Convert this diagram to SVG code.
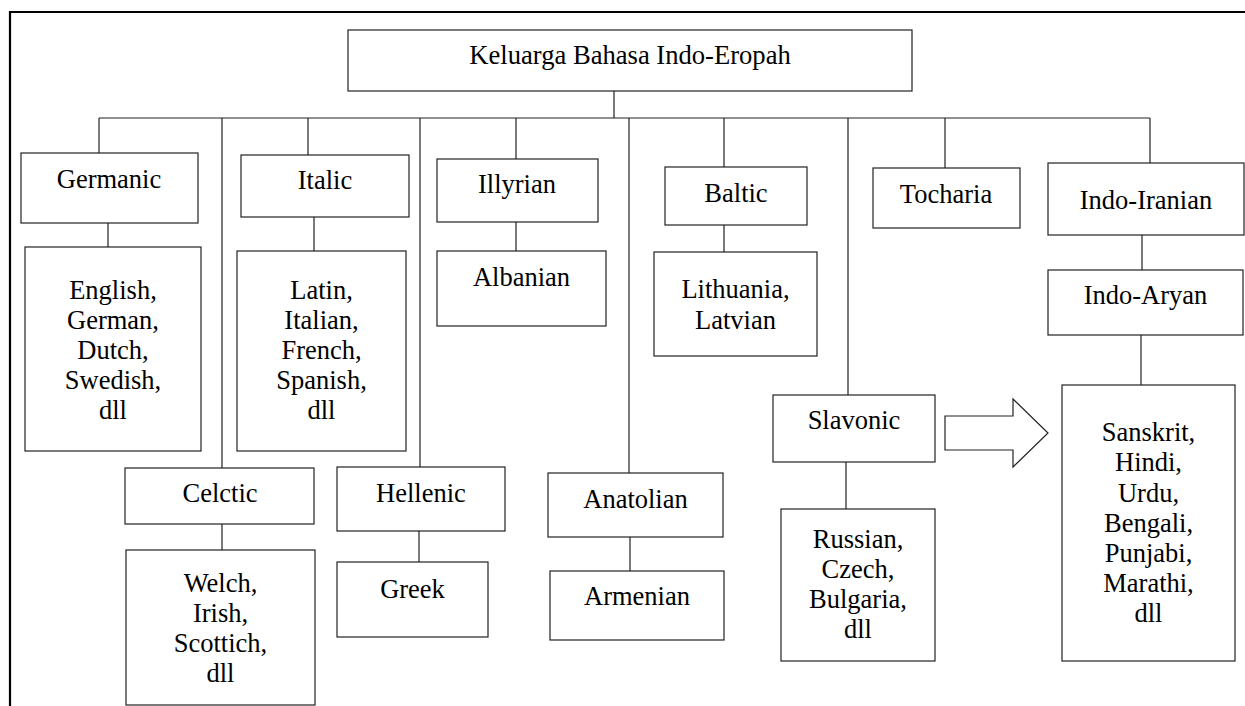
<svg xmlns="http://www.w3.org/2000/svg" width="1245" height="706" viewBox="0 0 1245 706">
<style>
.box{fill:#fff;stroke:#222;stroke-width:1.2}
.ln{stroke:#222;stroke-width:1.2;fill:none}
.frame{stroke:#000;stroke-width:2.2;fill:none}
text{font-family:'Liberation Serif','Times New Roman','DejaVu Serif',serif;font-size:26.5px;fill:#000;text-anchor:middle}
.title{font-size:26.6px}
</style>
<rect width="1245" height="706" fill="#fff"/>
<g id="frame">
<path class="frame" d="M10,706 V12 H1245"/>
</g>
<g id="connectors">
<path class="ln" d="M614,91 V118 M99,118 H1150"/>
<path class="ln" d="M99,118 V153 M222,118 V468 M308,118 V155 M420,118 V467 M516,118 V159 M629,118 V473 M724,118 V167 M848,118 V395 M945,118 V168 M1150,118 V163"/>
<path class="ln" d="M108,223 V247 M314,217 V251 M516,222 V251 M724,225 V252 M222,524 V550 M419,531 V562 M630,537 V571 M846,462 V509 M1142,235 V270 M1141,335 V385"/>
<path class="ln" d="M945,416 H1013 V399 L1048,433 L1013,467 V450 H945 Z"/>
</g>
<g font-family="Liberation Serif, serif">
<g id="root"><rect class="box" x="348" y="30" width="564" height="61"/><text class="title" x="630" y="64">Keluarga Bahasa Indo-Eropah</text></g>
<g id="germanic"><rect class="box" x="21" y="153" width="177" height="70"/><text x="109" y="188">Germanic</text></g>
<g id="germanic-langs"><rect class="box" x="25" y="247" width="176" height="204"/><text x="113" y="299">English,</text><text x="113" y="329">German,</text><text x="113" y="359">Dutch,</text><text x="113" y="389">Swedish,</text><text x="113" y="419">dll</text></g>
<g id="italic"><rect class="box" x="241" y="155" width="168" height="62"/><text x="325" y="189">Italic</text></g>
<g id="italic-langs"><rect class="box" x="237" y="251" width="169" height="200"/><text x="321.5" y="299">Latin,</text><text x="321.5" y="329">Italian,</text><text x="321.5" y="359">French,</text><text x="321.5" y="389">Spanish,</text><text x="321.5" y="419">dll</text></g>
<g id="illyrian"><rect class="box" x="437" y="159" width="161" height="63"/><text x="517" y="193">Illyrian</text></g>
<g id="albanian"><rect class="box" x="437" y="251" width="169" height="75"/><text x="521.5" y="286">Albanian</text></g>
<g id="baltic"><rect class="box" x="665" y="167" width="142" height="58"/><text x="736" y="202">Baltic</text></g>
<g id="baltic-langs"><rect class="box" x="654" y="252" width="163" height="104"/><text x="735.5" y="298">Lithuania,</text><text x="735.5" y="329">Latvian</text></g>
<g id="tocharia"><rect class="box" x="873" y="168" width="147" height="60"/><text x="946" y="203">Tocharia</text></g>
<g id="indo-iranian"><rect class="box" x="1048" y="163" width="196" height="72"/><text x="1146" y="209">Indo-Iranian</text></g>
<g id="indo-aryan"><rect class="box" x="1048" y="270" width="195" height="65"/><text x="1145.5" y="304">Indo-Aryan</text></g>
<g id="indo-aryan-langs"><rect class="box" x="1062" y="385" width="173" height="276"/><text x="1148.5" y="441">Sanskrit,</text><text x="1148.5" y="471">Hindi,</text><text x="1148.5" y="502">Urdu,</text><text x="1148.5" y="532">Bengali,</text><text x="1148.5" y="562">Punjabi,</text><text x="1148.5" y="592">Marathi,</text><text x="1148.5" y="622">dll</text></g>
<g id="slavonic"><rect class="box" x="773" y="395" width="162" height="67"/><text x="854" y="429">Slavonic</text></g>
<g id="slavonic-langs"><rect class="box" x="781" y="509" width="154" height="152"/><text x="858" y="548">Russian,</text><text x="858" y="578">Czech,</text><text x="858" y="608">Bulgaria,</text><text x="858" y="638">dll</text></g>
<g id="celtic"><rect class="box" x="125" y="468" width="189" height="56"/><text x="220" y="502">Celctic</text></g>
<g id="celtic-langs"><rect class="box" x="126" y="550" width="189" height="155"/><text x="220.5" y="592">Welch,</text><text x="220.5" y="622">Irish,</text><text x="220.5" y="652">Scottich,</text><text x="220.5" y="682">dll</text></g>
<g id="hellenic"><rect class="box" x="337" y="467" width="168" height="64"/><text x="421" y="502">Hellenic</text></g>
<g id="greek"><rect class="box" x="337" y="562" width="151" height="75"/><text x="412.5" y="598">Greek</text></g>
<g id="anatolian"><rect class="box" x="548" y="473" width="175" height="64"/><text x="635.5" y="508">Anatolian</text></g>
<g id="armenian"><rect class="box" x="550" y="571" width="174" height="69"/><text x="637" y="605">Armenian</text></g>
</g>
</svg>
